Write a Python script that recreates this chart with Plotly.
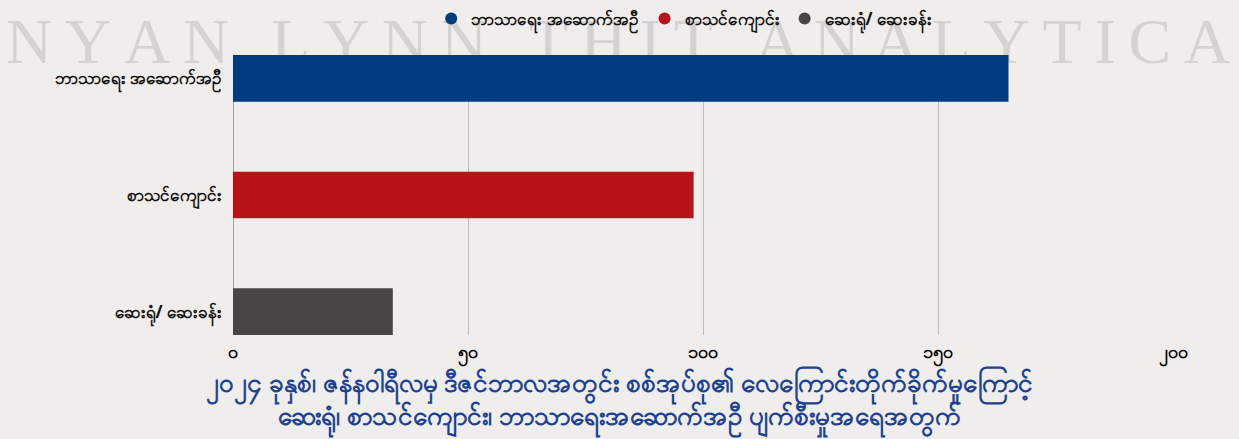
import plotly.graph_objects as go

categories = ["ဘာသာရေး အဆောက်အဦ", "စာသင်ကျောင်း", "ဆေးရုံ/ ဆေးခန်း"]
values = [165, 98, 34]
colors = ["#003a80", "#b81316", "#474546"]
tick_vals = [0, 50, 100, 150, 200]
tick_text = ["၀", "၅၀", "၁၀၀", "၁၅၀", "၂၀၀"]
title_lines = [
    "၂၀၂၄ ခုနှစ်၊ ဇန်နဝါရီလမှ ဒီဇင်ဘာလအတွင်း စစ်အုပ်စု၏ လေကြောင်းတိုက်ခိုက်မှုကြောင့်",
    "ဆေးရုံ၊ စာသင်ကျောင်း၊ ဘာသာရေးအဆောက်အဦ ပျက်စီးမှုအရေအတွက်",
]
watermark = "NYAN LYNN THIT ANALYTICA"

fig = go.Figure()
for cat, val, col in zip(categories, values, colors):
    fig.add_trace(go.Bar(
        x=[val], y=[cat], orientation="h", name=cat,
        marker=dict(color=col, line=dict(width=0)),
        width=0.4, showlegend=False,
    ))
# legend entries with circular markers
for cat, col in zip(categories, colors):
    fig.add_trace(go.Scatter(
        x=[None], y=[None], mode="markers", name=cat,
        marker=dict(color=col, size=18, symbol="circle"),
        showlegend=True,
    ))

wm = "\u2009".join(list(watermark))

fig.update_layout(
    width=1239, height=439,
    paper_bgcolor="#efeeec",
    plot_bgcolor="rgba(0,0,0,0)",
    margin=dict(l=233, r=66, t=55, b=104),
    barmode="overlay",
    showlegend=True,
    legend=dict(
        orientation="h", x=0.48, xanchor="center", y=0.998, yanchor="top",
        yref="container", font=dict(size=17, color="#111", family="Noto Sans", weight="bold"),
        itemsizing="constant", traceorder="normal",
        bgcolor="rgba(0,0,0,0)", itemwidth=30,
    ),
    font=dict(family="Noto Sans"),
    xaxis=dict(
        range=[0, 200], tickvals=tick_vals, ticktext=tick_text,
        showgrid=True, gridcolor="#bdbdbd", gridwidth=1,
        zeroline=False, showline=False,
        tickfont=dict(size=18, color="#000", family="Noto Sans", weight="bold"),
        ticks="", ticklabelstandoff=4, fixedrange=True,
    ),
    yaxis=dict(
        categoryorder="array", categoryarray=categories,
        range=[2.2, -0.2], showgrid=False, zeroline=False,
        showline=False, ticks="",
        tickfont=dict(size=17, color="#111", family="Noto Sans", weight="bold"),
        ticklabelstandoff=10, fixedrange=True,
    ),
    title=dict(
        text="<br>".join(title_lines),
        x=0.5, xanchor="center", xref="container",
        y=0.108, yanchor="top", yref="container",
        font=dict(size=26, color="#1d4292", family="Noto Sans", weight="bold"),
    ),
    shapes=[
        dict(type="line", xref="x", yref="paper", x0=0, x1=0, y0=0, y1=1,
             line=dict(color="#555", width=1), layer="below"),
        dict(type="rect", xref="paper", yref="paper",
             x0=-0.2508, x1=1.0702, y0=0.975, y1=1.175,
             line=dict(width=0), fillcolor="rgba(0,0,0,0)", layer="below",
             label=dict(text=wm, textposition="middle center",
                        font=dict(size=64, color="rgba(150,150,150,0.3)",
                                  family="Liberation Serif"))),
    ],
)

fig.write_html("out.html", config={"displayModeBar": False},
               post_script="document.body.style.margin='0';document.body.style.padding='0';")
